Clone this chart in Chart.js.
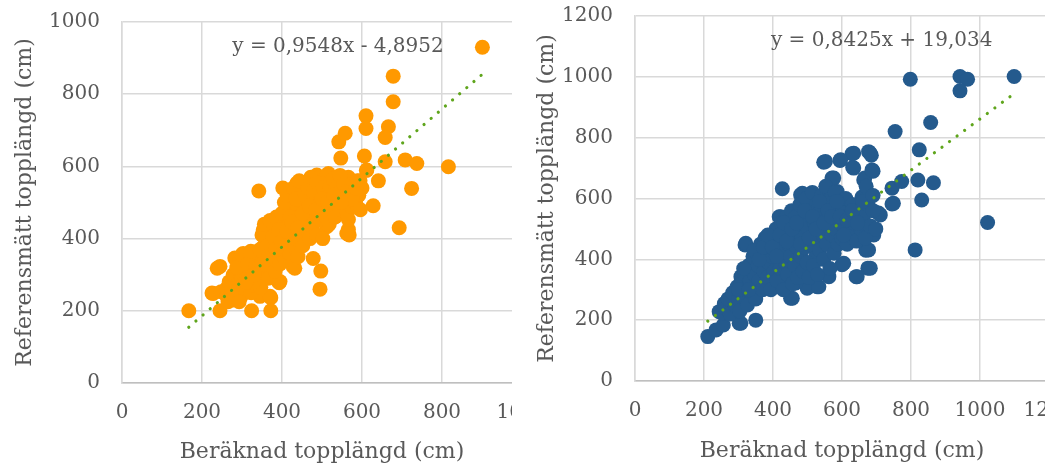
<!DOCTYPE html>
<html><head><meta charset="utf-8">
<script src="https://cdn.jsdelivr.net/npm/chart.js@4.4.1/dist/chart.umd.min.js"></script>
<style>
html,body{margin:0;padding:0;background:#fff;overflow:hidden;width:1045px;height:463px;}
#w1{position:absolute;left:0;top:0;width:512px;height:463px;overflow:hidden;}
#w2{position:absolute;left:522px;top:0;width:523px;height:463px;overflow:hidden;}
canvas{display:block;}
</style>
</head><body>
<div id="w1"><canvas id="c1" width="560" height="463"></canvas></div>
<div id="w2"><canvas id="c2" width="560" height="463"></canvas></div>
<script>
// ---- Data ----
const xTitle = "Beräknad topplängd (cm)";
const yTitle = "Referensmätt topplängd (cm)";

const leftX = [167,238,225,245,324,372,372,282,342,402,393,495,497,542,558,547,610,610,606,611,641,628,678,678,666,658,658,708,737,724,693,816,901,568,566,566,568,
228,248,303,391,478,428,562,362,287,278,345,320,437,487,516,612,587,424,378,353,512,432,395,370,295,282,245,262,
262,268,272,278,284,290,295,298,300,303,306,310,313,316,320,323,326,330,333,336,339,340,344,347,350,352,355,358,360,363,366,368,371,374,376,379,380,
383,385,388,390,393,395,398,400,402,405,408,410,412,415,418,420,423,425,427,430,432,435,438,440,442,445,447,450,452,455,457,460,
462,465,467,470,472,475,477,480,482,485,487,490,492,495,497,500,502,505,507,510,512,515,518,520,523,526,530,533,536,540,
543,546,550,553,556,560,563,566,570,573,576,580,584,588,592,596,600,
265,275,287,293,300,308,315,322,328,335,345,350,356,362,370,378,386,392,400,406,413,420,428,435,443,450,458,465,472,480,488,495,503,510,520,528,535,545,555,565,575,585,595,
310,330,350,368,385,398,412,425,440,452,468,485,500,515,530,548];
const leftY = [200,318,249,200,200,200,236,346,532,540,278,260,310,668,692,623,740,705,629,589,560,491,850,779,710,680,613,618,608,539,430,599,930,410,425,453,541,
248,253,359,281,345,322,414,433,290,230,240,276,553,576,580,590,525,497,433,424,433,318,281,240,341,295,323,240,
262,280,240,300,255,275,310,240,290,330,260,300,350,280,320,250,300,340,270,360,310,285,330,265,350,300,380,320,440,345,290,400,360,420,330,450,380,
310,410,350,440,390,330,460,410,370,430,340,480,400,450,360,500,420,470,380,520,440,400,490,350,460,540,420,500,380,470,550,430,
510,460,560,400,490,530,440,560,470,510,410,545,480,570,450,520,400,490,550,460,575,520,440,500,560,480,530,460,570,510,
545,480,520,560,500,540,470,570,510,490,550,530,500,560,520,480,540,
225,260,320,225,355,285,330,365,280,320,370,410,440,380,450,405,460,425,470,500,520,460,540,510,560,470,520,540,570,530,555,500,540,520,545,565,540,575,550,530,510,540,560,
280,300,330,355,370,390,420,445,430,470,490,480,510,500,520,500];

const rightX = [211,235,256,302,350,244,259,297,307,319,341,427,480,418,451,547,594,571,629,631,677,685,690,663,658,641,675,600,669,679,706,745,745,773,754,798,824,820,831,865,857,812,942,964,942,1022,1099,562,528,499,
321,422,485,552,596,634,682,576,666,634,687,749,711,677,682,644,605,533,456,422,307,312,350,379,390,466,495,524,553,586,610,658,692,629,586,543,524,495,446,408,379,360,331,283,254,389,437,466,485,456,427,
262,270,276,283,290,296,300,304,308,312,318,322,326,330,334,338,342,346,350,
354,357,360,364,367,370,374,377,380,384,387,390,394,397,400,
403,406,409,412,415,418,421,424,427,430,433,436,439,442,445,448,
451,454,457,460,463,466,469,472,475,478,481,484,487,490,493,496,499,
502,505,508,511,514,517,520,523,526,529,532,535,538,541,544,547,550,
553,556,559,562,565,568,571,574,577,580,583,586,589,592,596,599,
603,607,611,615,620,625,630,636,642,648,655,662,668,675,682,690,698,
300,315,330,345,360,372,385,398,410,420,432,440,455,468,480,492,505,515,525,535,548,560,570,585,595,605,615,630,645,660,670,690];
const rightY = [146,168,184,190,200,228,255,283,343,447,376,632,612,540,272,719,725,667,747,702,754,742,690,661,605,343,371,382,430,482,552,582,634,656,820,992,760,661,595,652,850,431,1001,992,954,521,1001,343,310,305,
453,540,617,722,727,749,749,667,667,700,694,584,546,431,371,343,387,310,272,310,190,343,376,464,475,530,552,595,595,623,573,530,480,475,508,464,409,365,387,409,354,310,277,244,223,310,332,322,442,475,497,
240,270,220,290,250,310,270,230,320,280,350,300,250,380,330,290,410,350,270,
430,380,330,450,400,300,360,470,420,340,390,450,300,410,480,
360,430,500,330,400,460,370,520,430,300,480,390,540,350,450,510,
410,560,320,480,380,540,440,340,500,580,410,470,360,530,440,600,390,
500,340,560,450,620,380,520,470,580,350,500,430,560,610,480,400,540,
640,450,580,510,370,600,480,550,420,620,500,560,450,590,520,470,
560,500,600,450,540,480,580,520,460,560,500,540,470,580,510,560,500,
300,370,300,430,400,440,480,440,410,480,520,460,500,520,450,560,470,540,500,590,520,560,540,590,540,480,530,560,520,590,640,610];

const leftFit = [0.9548, -4.8952];   // slope, intercept
const rightFit = [0.8425, 19.034];
const leftEq = "y = 0,9548x - 4,8952";
const rightEq = "y = 0,8425x + 19,034";
const leftTicksMax = 1000, rightTicksMax = 1200, tickStep = 200;

// ---- Helpers ----
const FONT = "'DejaVu Serif', 'Liberation Serif', serif";
const TXT = '#595959';
const GRID = '#d9d9d9';

function pts(xs, ys){ return xs.map((x,i)=>({x:x, y:ys[i]})); }
function trend(xs, fit){
  const a = Math.min(...xs), b = Math.max(...xs);
  return [{x:a, y:fit[0]*a+fit[1]}, {x:b, y:fit[0]*b+fit[1]}];
}

function makeChart(id, xs, ys, fit, color, max, eq, eqPos, geom){
  const eqPlugin = {
    id:'eq'+id,
    afterDatasetsDraw(chart){
      const c = chart.ctx;
      c.save();
      c.font = "20px " + FONT;
      c.fillStyle = TXT;
      c.textAlign = 'center';
      c.textBaseline = 'middle';
      c.fillText(eq, chart.scales.x.getPixelForValue(eqPos[0]), chart.scales.y.getPixelForValue(eqPos[1]));
      c.restore();
    }
  };
  return new Chart(document.getElementById(id), {
    type:'scatter',
    data:{datasets:[
      {type:'line', data:trend(xs, fit), borderColor:'#5fa51c', borderWidth:3.2,
       borderDash:[0.01, 9.4], borderCapStyle:'round', pointRadius:0, fill:false, tension:0},
      {data:pts(xs, ys), backgroundColor:color, borderColor:color, borderWidth:0,
       pointRadius:7.5, pointHoverRadius:7.5}
    ]},
    options:{
      responsive:false, animation:false, devicePixelRatio:1,
      layout:{padding:{left:0, top:geom.top, right:geom.right, bottom:0}},
      plugins:{legend:{display:false}, tooltip:{enabled:false}},
      scales:{
        x:{type:'linear', min:0, max:max, 
           ticks:{stepSize:tickStep, color:TXT, font:{family:FONT, size:20}, padding:geom.xpad, maxRotation:0, autoSkip:false,
                  callback:v=>String(v)},
           grid:{color:GRID, lineWidth:1.5, drawTicks:false},
           border:{color:'#bfbfbf', width:1.5},
           title:{display:true, text:xTitle, color:TXT, font:{family:FONT, size:22, lineHeight:1.0}, padding:{top:0,bottom:geom.xtb}},
           afterFit(s){ s.height = geom.xh; s.paddingLeft = 0; s.paddingRight = 0; }
        },
        y:{type:'linear', min:0, max:max,
           ticks:{stepSize:tickStep, color:TXT, font:{family:FONT, size:20}, padding:22, callback:v=>String(v)},
           grid:{color:GRID, lineWidth:1.5, drawTicks:false},
           border:{color:GRID, width:1.5},
           title:{display:true, text:yTitle, color:TXT, font:{family:FONT, size:22, lineHeight:1.0}, padding:{top:geom.ytp, bottom:0}},
           afterFit(s){ s.width = geom.yw; s.paddingTop = 0; s.paddingBottom = 0; }
        }
      }
    },
    plugins:[eqPlugin]
  });
}

makeChart('c1', leftX, leftY, leftFit, '#ff9900', leftTicksMax, leftEq, [540, 930],
  {top:22, right:38, xh:80, yw:122, xpad:18, xtb:0, ytp:14});
makeChart('c2', rightX, rightY, rightFit, '#245a8d', rightTicksMax, rightEq, [715, 1118],
  {top:16, right:33, xh:82, yw:113, xpad:18, xtb:1, ytp:14});
</script>
</body></html>
